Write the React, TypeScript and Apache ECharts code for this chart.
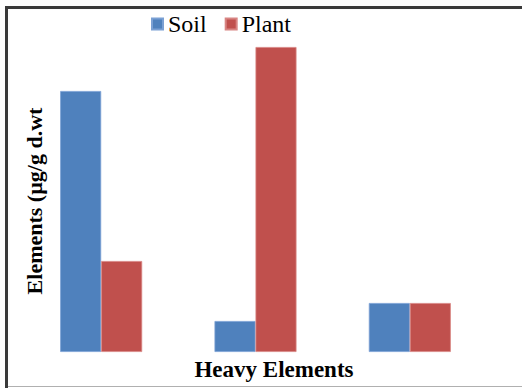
import React, { useEffect, useRef } from "react";
import * as echarts from "echarts";

const categories = ["Element 1", "Element 2", "Element 3"];
const soilValues = [26.1, 3.1, 4.9];
const plantValues = [9.1, 30.5, 4.9];
const seriesNames = ["Soil", "Plant"];
const yAxisTitle = "Elements (µg/g d.wt";
const xAxisTitle = "Heavy Elements";

export default function App() {
  const ref = useRef<HTMLDivElement>(null);
  useEffect(() => {
    if (!ref.current) return;
    const chart = echarts.init(ref.current, null, { renderer: "svg" });
    const serif = "'Liberation Serif', 'Times New Roman', serif";
    chart.setOption({
      animation: false,
      backgroundColor: "#ffffff",
      legend: {
        data: seriesNames,
        left: 151,
        top: 12,
        padding: 0,
        itemWidth: 11,
        itemHeight: 11,
        itemGap: 18,
        icon: "rect",
        textStyle: { fontFamily: serif, fontSize: 24, color: "#000" },
      },
      grid: { left: 24, width: 463, top: 32, bottom: 36 },
      xAxis: {
        type: "category",
        data: categories,
        axisLine: { show: false },
        axisTick: { show: false },
        axisLabel: { show: false },
        splitLine: { show: false },
      },
      yAxis: {
        type: "value",
        min: 0,
        max: 32,
        show: false,
        splitLine: { show: false },
      },
      series: [
        {
          name: seriesNames[0],
          type: "bar",
          data: soilValues,
          barWidth: 41,
          barGap: "0%",
          itemStyle: { color: "#4F81BD", borderColor: "#7aa0d4", borderWidth: 0.8 },
        },
        {
          name: seriesNames[1],
          type: "bar",
          data: plantValues,
          barWidth: 41,
          barGap: "0%",
          itemStyle: { color: "#C0504D", borderColor: "#d88583", borderWidth: 0.8 },
        },
      ],
      graphic: [
        {
          type: "line",
          shape: { x1: 6.5, y1: 7.5, x2: 522, y2: 7.5 },
          style: { stroke: "#3a3a3a", lineWidth: 3 },
        },
        {
          type: "line",
          shape: { x1: 6.5, y1: 6, x2: 6.5, y2: 388 },
          style: { stroke: "#3a3a3a", lineWidth: 3 },
        },
        {
          type: "line",
          shape: { x1: 8, y1: 386.5, x2: 522, y2: 386.5 },
          style: { stroke: "#b0b0b0", lineWidth: 1 },
        },
        {
          type: "text",
          x: 34,
          y: 201,
          rotation: Math.PI / 2,
          style: {
            text: yAxisTitle,
            fontFamily: serif,
            fontSize: 22,
            fontWeight: "bold",
            fill: "#000",
            align: "center",
            verticalAlign: "middle",
          },
        },
        {
          type: "text",
          x: 274,
          y: 369,
          style: {
            text: xAxisTitle,
            fontFamily: serif,
            fontSize: 23,
            fontWeight: "bold",
            fill: "#000",
            align: "center",
            verticalAlign: "middle",
          },
        },
      ],
    });
    return () => chart.dispose();
  }, []);
  return (
    <div
      ref={ref}
      style={{ position: "fixed", left: 0, top: 0, width: 522, height: 388, background: "#fff" }}
    />
  );
}
